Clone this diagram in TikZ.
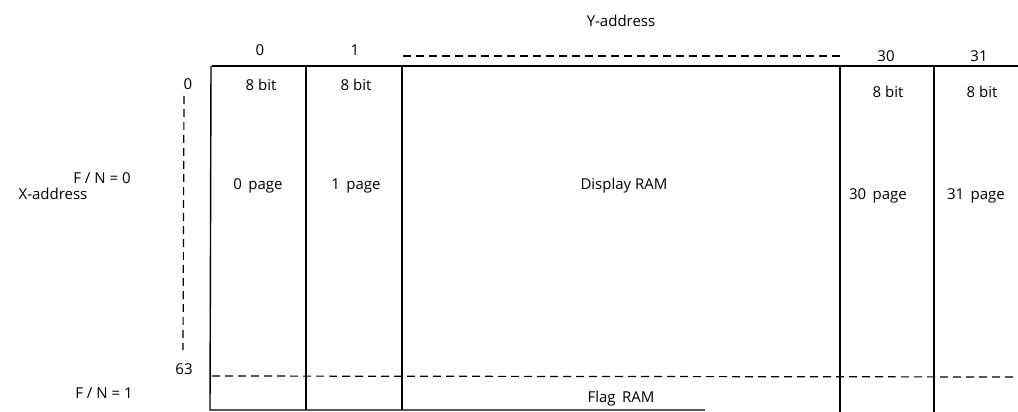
\documentclass[tikz,border=0pt]{standalone}
\usepackage{fontspec}
\setmainfont{Open Sans}
\usetikzlibrary{positioning}

\begin{document}
\begin{tikzpicture}[x=1pt, y=-1pt, font=\fontsize{15}{17}\selectfont,
    lbl/.style={inner sep=0pt, anchor=base},
    gridline/.style={line width=1.4pt},
    dashline/.style={line width=1.2pt, dash pattern=on 8pt off 5pt}]
\useasboundingbox (0,0) rectangle (1018,412);

% Outer frame
\draw[gridline] (212,66) -- (1018,66);
\draw[gridline] (211,66) -- (210,410) -- (705,410);

% Column separators
\foreach \x in {306, 402} {
    \draw[gridline] (\x,66) -- (\x,410);
}
\foreach \x in {840, 934} {
    \draw[gridline] (\x,66) -- (\x,412);
}

% Dashed lines
\draw[dashline] (403,56) -- (843,56);
\draw[dashline] (212,376) -- (1018,377);
\draw[dashline] (184,96) -- (183,350);

% Y-address labels
\node[lbl] (yaddr) at (621,27) {Y-address};
\node[lbl] (y0) at (260,56) {0};
\node[lbl] (y1) at (355,56) {1};
\node[lbl] (y30) at (886,62) {30};
\node[lbl] (y31) at (979,62) {31};

% X-address labels
\node[lbl] (x0) at (188,90) {0};
\node[lbl] (x63) at (184,374) {63};
\node[lbl] (xaddr) at (53,199) {X-address};
\node[lbl] (fn0) at (102,183) {F / N = 0};
\node[lbl] (fn1) at (104,398) {F / N = 1};

% Cell contents
\node[lbl] (bit0) at (261,91) {8 bit};
\node[lbl] (bit1) at (356,91) {8 bit};
\node[lbl] (bit30) at (888,98) {8 bit};
\node[lbl] (bit31) at (982,98) {8 bit};
\node[lbl] (page0) at (258,189) {0 \,page};
\node[lbl] (page1) at (356,189) {1 \,page};
\node[lbl] (dram) at (624,189) {Display RAM};
\node[lbl] (page30) at (878,199) {30 \,page};
\node[lbl] (page31) at (976,199) {31 \,page};
\node[lbl] (fram) at (621,402) {Flag \,RAM};

\end{tikzpicture}
\end{document}
